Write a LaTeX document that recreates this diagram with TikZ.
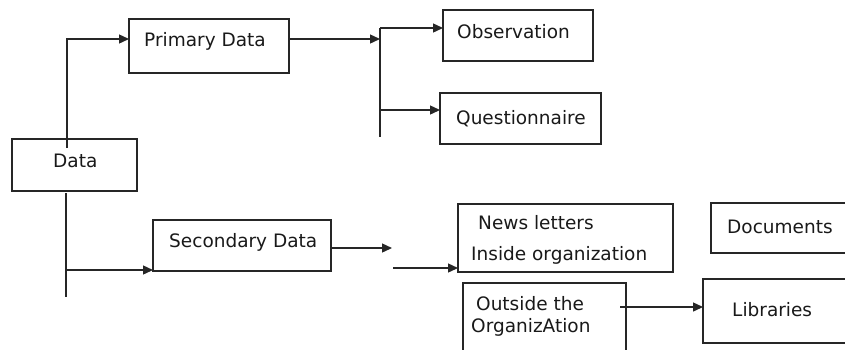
\documentclass[tikz,border=0pt]{standalone}
\usepackage{fontspec}
\setmainfont{DejaVu Sans}
\usetikzlibrary{arrows.meta,calc}
\begin{document}
\begin{tikzpicture}[x=1pt,y=-1pt,
  box/.style={draw=black!85,line width=1.4pt,inner sep=0pt,outer sep=0pt,anchor=north west},
  lbl/.style={anchor=base west,inner sep=0pt,font=\fontsize{18.5}{21}\selectfont,text=black!90},
  conn/.style={draw=black!85,line width=1.4pt},
  arr/.style={conn,-{Triangle[length=10pt,width=9pt]}}]
\useasboundingbox (0,0) rectangle (845,349);
\clip (0,0) rectangle (845,349);
% boxes
\node[box,minimum width=125pt,minimum height=52pt] (data) at (12,139) {};
\node[box,minimum width=160pt,minimum height=54pt] (prim) at (129,19) {};
\node[box,minimum width=150pt,minimum height=51pt] (obs) at (443,10) {};
\node[box,minimum width=161pt,minimum height=51pt] (quest) at (440,93) {};
\node[box,minimum width=178pt,minimum height=51pt] (sec) at (153,220) {};
\node[box,minimum width=215pt,minimum height=68pt] (news) at (458,204) {};
\node[box,minimum width=160pt,minimum height=50pt] (docs) at (711,203) {};
\node[box,minimum width=160pt,minimum height=64pt] (libs) at (703,279) {};
\node[box,minimum width=163pt,minimum height=90pt] (outs) at (463,283) {};
% texts
\node[lbl] (tdata) at (53,167) {Data};
\node[lbl] (tprim) at (144,46) {Primary Data};
\node[lbl] (tobs) at (457,38) {Observation};
\node[lbl] (tquest) at (456,124) {Questionnaire};
\node[lbl] (tsec) at (169,247) {Secondary Data};
\node[lbl] (tnews1) at (478,229) {News letters};
\node[lbl] (tnews2) at (471,260) {Inside organization};
\node[lbl] (tdocs) at (727,233) {Documents};
\node[lbl] (touts1) at (476,310) {Outside the};
\node[lbl] (touts2) at (471,332) {OrganizAtion};
\node[lbl] (tlibs) at (732,316) {Libraries};
% coordinates
\coordinate (d1) at (67,148);
\coordinate (d2) at (67,39);
\coordinate (p1) at (129,39);
\coordinate (p2) at (289,39);
\coordinate (v0) at (380,39);
\coordinate (vt) at (380,28);
\coordinate (vb) at (380,137);
\coordinate (vq) at (380,110);
\coordinate (o1) at (443,28);
\coordinate (q1) at (440,110);
\coordinate (s0) at (66,193);
\coordinate (s9) at (66,297);
\coordinate (s1) at (66,270);
\coordinate (s2) at (153,270);
\coordinate (s3) at (331,248);
\coordinate (s4) at (392,248);
\coordinate (n0) at (393,268);
\coordinate (n1) at (458,268);
\coordinate (l0) at (620,307);
\coordinate (l1) at (703,307);
% connectors
\draw[arr] (d1) -- (d2) -- (p1);
\draw[arr] (p2) -- (v0);
\draw[conn] (vt) -- (vb);
\draw[arr] (vt) -- (o1);
\draw[arr] (vq) -- (q1);
\draw[conn] (s0) -- (s9);
\draw[arr] (s1) -- (s2);
\draw[arr] (s3) -- (s4);
\draw[arr] (n0) -- (n1);
\draw[arr] (l0) -- (l1);
\end{tikzpicture}
\end{document}
